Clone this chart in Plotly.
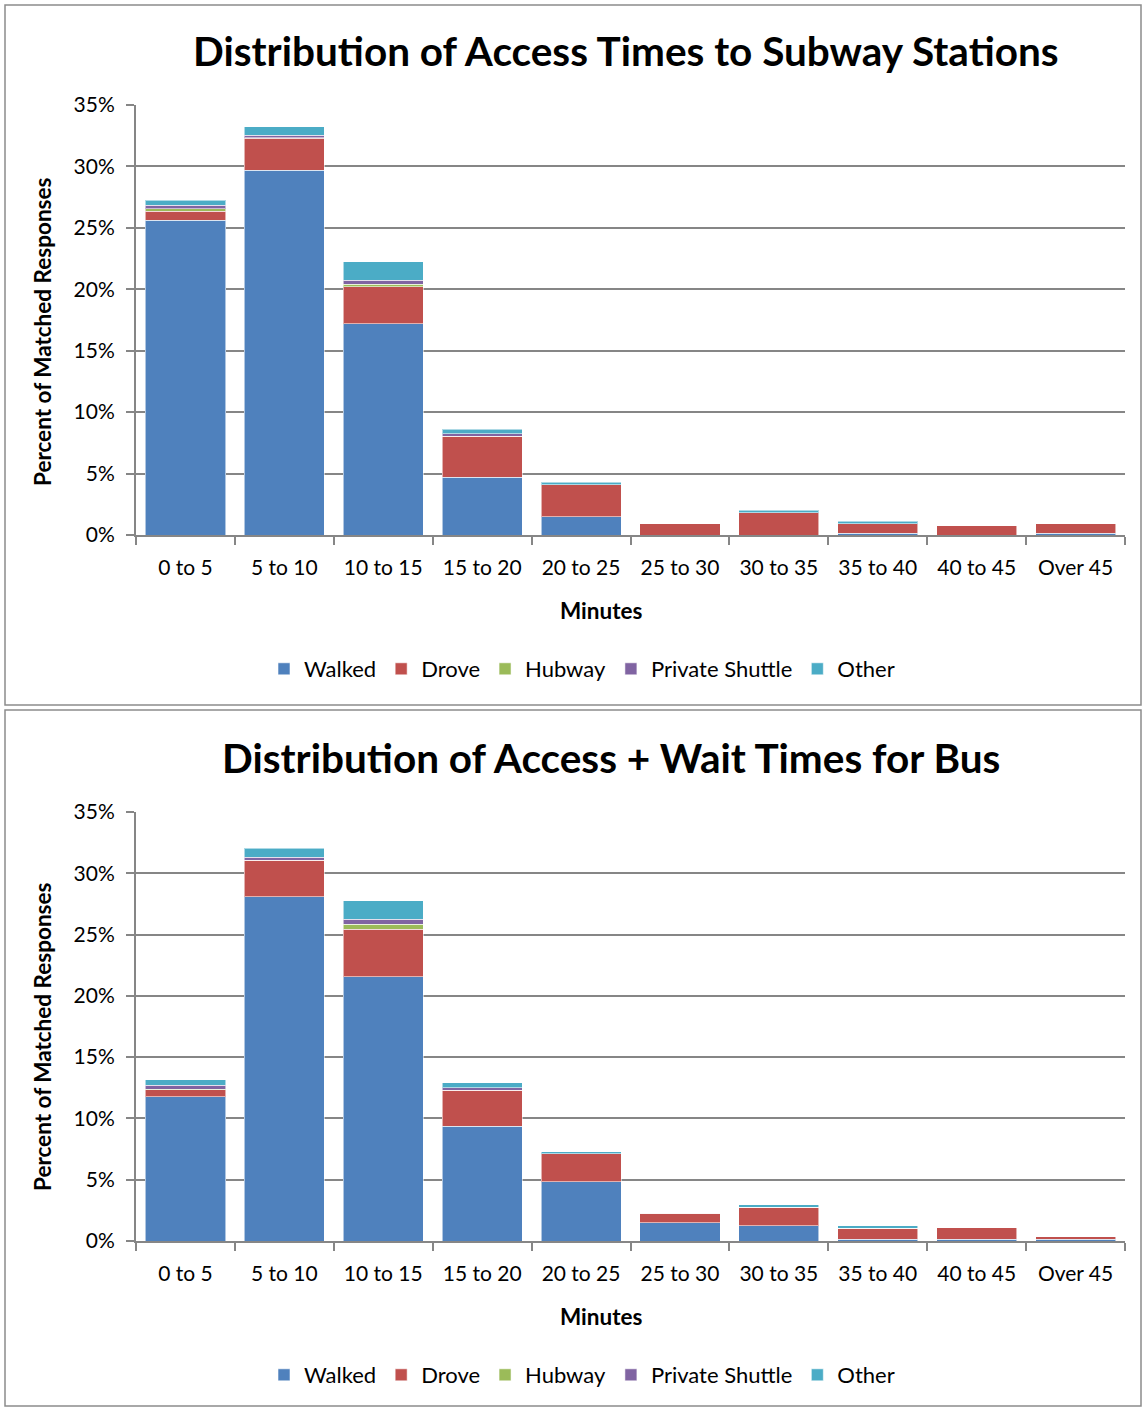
import plotly.graph_objects as go

# Time bins (minutes)
categories = ["0 to 5", "5 to 10", "10 to 15", "15 to 20", "20 to 25",
              "25 to 30", "30 to 35", "35 to 40", "40 to 45", "Over 45"]

modes = ["Walked", "Drove", "Hubway", "Private Shuttle", "Other"]
mode_colors = ["#4F81BD", "#C0504D", "#9BBB59", "#8064A2", "#4BACC6"]

# Subway station access times, percent of matched responses
subway_walked = [25.6, 29.7, 17.2, 4.7, 1.5, 0.0, 0.0, 0.15, 0.0, 0.15]
subway_drove = [0.75, 2.6, 3.0, 3.35, 2.6, 0.9, 1.8, 0.75, 0.75, 0.75]
subway_hubway = [0.2, 0.05, 0.2, 0.0, 0.0, 0.0, 0.0, 0.0, 0.0, 0.0]
subway_shuttle = [0.3, 0.2, 0.35, 0.2, 0.0, 0.0, 0.0, 0.0, 0.0, 0.0]
subway_other = [0.4, 0.7, 1.5, 0.35, 0.2, 0.0, 0.2, 0.2, 0.0, 0.0]

# Bus access + wait times, percent of matched responses
bus_walked = [11.75, 28.1, 21.55, 9.35, 4.85, 1.5, 1.25, 0.15, 0.15, 0.15]
bus_drove = [0.6, 2.95, 3.9, 2.95, 2.25, 0.75, 1.5, 0.9, 0.95, 0.2]
bus_hubway = [0.05, 0.0, 0.4, 0.0, 0.0, 0.0, 0.0, 0.0, 0.0, 0.0]
bus_shuttle = [0.3, 0.25, 0.4, 0.2, 0.0, 0.0, 0.0, 0.0, 0.0, 0.0]
bus_other = [0.45, 0.75, 1.5, 0.4, 0.2, 0.0, 0.2, 0.2, 0.0, 0.0]

y_ticks = [0, 5, 10, 15, 20, 25, 30, 35]
y_tick_labels = ["0%", "5%", "10%", "15%", "20%", "25%", "30%", "35%"]

W, H = 1143, 1407
FONT = "Lato, 'Open Sans', sans-serif"
GRID = "#868686"


def px_x(x):
    return x / W


def px_y(y):
    return 1 - y / H


fig = go.Figure()

panels = [
    ("x", "y", "legend", [subway_walked, subway_drove, subway_hubway, subway_shuttle, subway_other]),
    ("x2", "y2", "legend2", [bus_walked, bus_drove, bus_hubway, bus_shuttle, bus_other]),
]
for xa, ya, leg, series in panels:
    for name, color, vals in zip(modes, mode_colors, series):
        fig.add_trace(go.Bar(
            x=categories, y=vals, name=name, xaxis=xa, yaxis=ya, legend=leg,
            marker=dict(color=color, line=dict(color="rgba(255,255,255,0.55)", width=1)),
        ))

axis_common_x = dict(
    type="category", showgrid=False, showline=True, linecolor=GRID, linewidth=2,
    ticks="outside", tickson="boundaries", ticklen=8, tickwidth=2, tickcolor=GRID,
    tickfont=dict(family=FONT, size=21, color="#000"), ticklabelstandoff=13,
    automargin=False,
)
axis_common_y = dict(
    range=[0, 35], tickvals=y_ticks, ticktext=y_tick_labels,
    showgrid=True, gridcolor=GRID, gridwidth=1.5, showline=True, linecolor=GRID, linewidth=2,
    ticks="outside", ticklen=8, tickwidth=2, tickcolor=GRID, zeroline=False,
    tickfont=dict(family=FONT, size=21, color="#000"), ticklabelstandoff=7,
    automargin=False,
)


def label(text, x, y, size, angle=0):
    return dict(text=text, x=px_x(x), y=px_y(y), xref="paper", yref="paper",
                xanchor="center", yanchor="middle", showarrow=False, textangle=angle,
                font=dict(family=FONT, size=size, color="#000"))


fig.update_layout(
    width=W, height=H, margin=dict(l=0, r=0, t=0, b=0, autoexpand=False),
    paper_bgcolor="white", plot_bgcolor="white",
    barmode="stack", bargap=0.19,
    font=dict(family=FONT, color="#000"),
    xaxis=dict(axis_common_x, domain=[px_x(136), px_x(1125)], anchor="y"),
    yaxis=dict(axis_common_y, domain=[px_y(535), px_y(105)], anchor="x"),
    xaxis2=dict(axis_common_x, domain=[px_x(136), px_x(1125)], anchor="y2"),
    yaxis2=dict(axis_common_y, domain=[px_y(1241), px_y(812)], anchor="x2"),
    legend=dict(orientation="h", x=px_x(582), xanchor="center", y=px_y(669), yanchor="middle",
                font=dict(family=FONT, size=22), traceorder="normal", itemwidth=30),
    legend2=dict(orientation="h", x=px_x(582), xanchor="center", y=px_y(1375), yanchor="middle",
                 font=dict(family=FONT, size=22), traceorder="normal", itemwidth=30),
    showlegend=True,
    annotations=[
        label("<b>Distribution of Access Times to Subway Stations</b>", 625.5, 50, 40.5),
        label("<b>Distribution of Access + Wait Times for Bus</b>", 610.5, 757, 40.5),
        label("<b>Minutes</b>", 601, 610, 22.5),
        label("<b>Minutes</b>", 601, 1316, 22.5),
        label("<b>Percent of Matched Responses</b>", 42, 332, 22.5, -90),
        label("<b>Percent of Matched Responses</b>", 42, 1037, 22.5, -90),
    ],
    shapes=[
        dict(type="rect", xref="paper", yref="paper", x0=px_x(5), x1=px_x(1141), y0=px_y(705), y1=px_y(5),
             line=dict(color="#8c8c8c", width=1.5)),
        dict(type="rect", xref="paper", yref="paper", x0=px_x(5), x1=px_x(1141), y0=px_y(1406), y1=px_y(710),
             line=dict(color="#8c8c8c", width=1.5)),
    ],
)

fig.write_html("out.html")
